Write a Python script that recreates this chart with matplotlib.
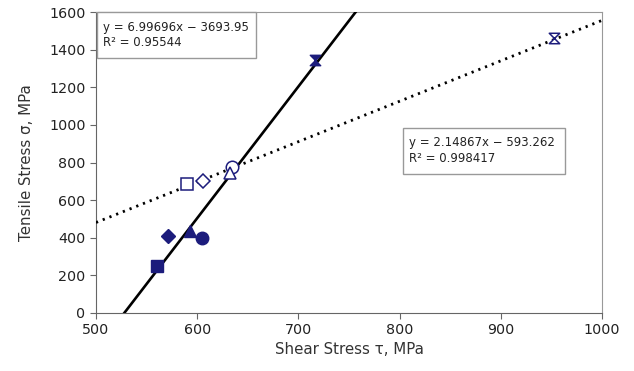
import numpy as np
import matplotlib.pyplot as plt
from matplotlib.path import Path
from matplotlib.patches import Rectangle

# shear stress tau (MPa) and tensile stress sigma (MPa)
filled_tau = [560, 571, 593, 605, 716]
filled_sigma = [250, 410, 436, 399, 1346]
filled_marks = ['s', 'D', '^', 'o', 'hg']

open_tau = [590, 606, 634, 632, 953]
open_sigma = [686, 702, 777, 745, 1463]
open_marks = ['s', 'D', 'o', '^', 'hg']

# trendlines as printed on the chart
fit_solid = (6.99696, -3693.95, 0.95544)
fit_dotted = (2.14867, -593.262, 0.998417)

W, H = 634, 371
navy = '#1c1c7c'

hourglass = Path([(-1, 1), (1, 1), (-1, -1), (1, -1), (-1, 1)],
                 [Path.MOVETO, Path.LINETO, Path.LINETO, Path.LINETO, Path.CLOSEPOLY])

def mk(m):
    return hourglass if m == 'hg' else m

sizes = {'s': 9, 'D': 7, '^': 8.5, 'o': 9, 'hg': 7.5}

plt.rcParams['font.family'] = 'DejaVu Sans'
fig = plt.figure(figsize=(W / 100, H / 100), dpi=100)
ax = fig.add_axes([96 / W, 1 - 313 / H, (602 - 96) / W, (313 - 12) / H])

xs = np.linspace(500, 1000, 400)
a, b, r2 = fit_solid
ax.plot(xs, a * xs + b, color='black', lw=1.9, zorder=3)
a2, b2, r22 = fit_dotted
ax.plot(xs, a2 * xs + b2, color='black', lw=2, linestyle=(0, (0.8, 1.8)), zorder=3)

for t, s, m in zip(filled_tau, filled_sigma, filled_marks):
    ax.plot(t, s, marker=mk(m), markersize=sizes[m], color=navy, mec=navy, zorder=4)
for t, s, m in zip(open_tau, open_sigma, open_marks):
    ax.plot(t, s, marker=mk(m), markersize=sizes[m], mfc='white', mec=navy, mew=1.1, zorder=4)

ax.set_xlim(500, 1000)
ax.set_ylim(0, 1600)
ax.set_xticks(range(500, 1001, 100))
ax.set_yticks(range(0, 1601, 200))
for sp in ax.spines.values():
    sp.set_color('#999999')
ax.spines['left'].set_color('#666666')
ax.spines['bottom'].set_color('#666666')
ax.tick_params(direction='out', length=4, color='#666666', labelsize=10.3, labelcolor='#222222')
ax.tick_params(axis='x', pad=3)
ax.set_xlabel('Shear Stress τ, MPa', fontsize=10.8, color='#333333', labelpad=4)
ax.set_ylabel('Tensile Stress σ, MPa', fontsize=10.8, color='#333333', labelpad=11)

def eq_box(x0, y0, x1, y1, a, b, r2):
    fig.add_artist(Rectangle((x0 / W, 1 - y1 / H), (x1 - x0) / W, (y1 - y0) / H,
                             transform=fig.transFigure, facecolor='white',
                             edgecolor='#999999', lw=1, zorder=5))
    fig.text((x0 + 6) / W, 1 - (y0 + 15) / H, f'y = {a:g}x − {abs(b):g}',
             fontsize=8.5, color='#222222', va='center', zorder=6)
    fig.text((x0 + 6) / W, 1 - (y0 + 31) / H, f'R² = {r2:g}',
             fontsize=8.5, color='#222222', va='center', zorder=6)

eq_box(97, 12, 256, 58, a, b, r2)
eq_box(403, 128, 565, 174, a2, b2, r22)

fig.savefig('out.png', dpi=100)
